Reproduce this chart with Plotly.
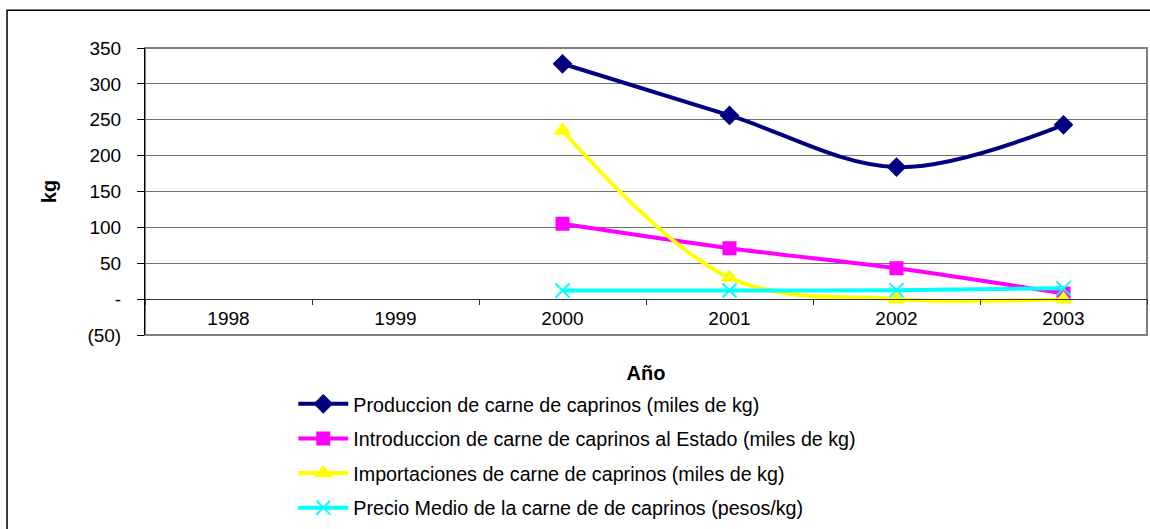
import plotly.graph_objects as go

years = ['1998', '1999', '2000', '2001', '2002', '2003']
produccion = [None, None, 328, 256, 184, 243]
introduccion = [None, None, 105, 71, 43, 8]
importaciones = [None, None, 235, 30, 0, 0]
precio = [None, None, 12, 12, 12.5, 15]

y_ticks = [-50, 0, 50, 100, 150, 200, 250, 300, 350]
y_tick_text = ['(50)', '-', '50', '100', '150', '200', '250', '300', '350']

series = [
    ('Produccion de carne de caprinos (miles de kg)', produccion, '#000080', 'diamond', 13),
    ('Introduccion de carne de caprinos al Estado (miles de kg)', introduccion, '#FF00FF', 'square', 12),
    ('Importaciones de carne de caprinos (miles de kg)', importaciones, '#FFFF00', 'triangle-up', 13),
    ('Precio Medio de la carne de de caprinos (pesos/kg)', precio, '#00FFFF', 'x-thin-open', 14),
]

fig = go.Figure()
for i, (name, vals, color, sym, size) in enumerate(series):
    fig.add_trace(go.Scatter(
        x=years, y=vals, name=name, mode='lines+markers',
        line=dict(color=color, width=4, shape='spline', smoothing=1),
        marker=dict(symbol=sym, size=size, color=color, line=dict(color=color, width=2)),
        legendgroup=str(i),
    ))

font = 'Liberation Sans, Arial, sans-serif'
fig.update_layout(
    width=1150, height=529,
    margin=dict(l=145, r=3, t=48, b=193),
    paper_bgcolor='white', plot_bgcolor='white',
    font=dict(family=font, size=19, color='black'),
    showlegend=True,
    # legend sits on the bottom edge so it does not push the plot margins
    legend=dict(x=0.148, y=-0.665, xanchor='left', yanchor='bottom',
                font=dict(size=19.7), tracegroupgap=6, itemwidth=50,
                bgcolor='rgba(0,0,0,0)'),
    xaxis=dict(type='category', categoryorder='array', categoryarray=years,
               range=[-0.5, len(years) - 0.5],
               anchor='free', position=0.125,
               showline=True, linecolor='#333333', linewidth=1,
               ticks='outside', tickson='boundaries', ticklen=5, tickcolor='#333333',
               showgrid=False, zeroline=False,
               tickfont=dict(size=19), ticklabelstandoff=2,
               title=dict(text='<b>Año</b>', font=dict(size=20), standoff=38)),
    yaxis=dict(range=[-50, 350], tickvals=y_ticks, ticktext=y_tick_text,
               showline=True, linecolor='black', linewidth=1,
               ticks='outside', ticklen=7, tickcolor='black',
               showgrid=True, gridcolor='#707070', gridwidth=1, zeroline=False,
               tickfont=dict(size=19), ticklabelstandoff=12,
               title=dict(text='<b>kg</b>', font=dict(size=20), standoff=25)),
    shapes=[
        dict(type='rect', xref='paper', yref='paper', x0=0, x1=1, y0=0, y1=1,
             line=dict(color='#808080', width=2), layer='below'),
        dict(type='rect', xref='paper', yref='paper', x0=-0.1377, x1=1.02, y0=-0.75, y1=1.1319,
             line=dict(color='black', width=1.5)),
    ],
)

# drop the default body margin so the figure fills the window exactly
fig.write_html('out.html', config={'displayModeBar': False},
               post_script="document.body.style.margin='0';")
